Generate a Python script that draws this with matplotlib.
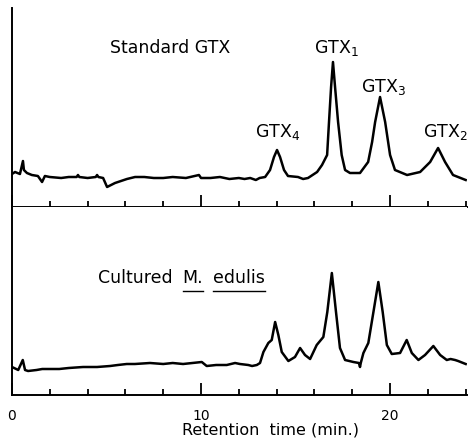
import matplotlib
matplotlib.use("Agg")
import matplotlib.pyplot as plt
from matplotlib.transforms import IdentityTransform

# retention time (min) / detector response (arbitrary units)
std_time = [0.0, 0.16, 0.42, 0.58, 0.63, 0.79, 1.05, 1.37, 1.59, 1.74, 2.0,
            2.6, 3.0, 3.42, 3.49, 3.56, 4.0, 4.43, 4.50, 4.57, 4.82, 5.03,
            5.45, 6.08, 6.51, 7.0, 7.5, 8.0, 8.5, 9.2, 9.89, 10.0, 10.5,
            11.0, 11.5, 12.0, 12.3, 12.6, 12.9, 13.1, 13.39, 13.65, 13.86,
            14.02, 14.18, 14.39, 14.60, 15.13, 15.4, 15.66, 16.14, 16.40,
            16.67, 16.77, 16.88, 16.98, 17.09, 17.25, 17.44, 17.62, 17.88,
            18.41, 18.84, 19.05, 19.21, 19.47, 19.74, 20.0, 20.26, 20.90,
            21.59, 22.12, 22.54, 22.91, 23.33, 24.0]
std_signal = [33, 35, 33, 46, 37, 34, 32, 31, 25, 31, 30,
              29, 30, 30, 32, 30, 29, 30, 32, 30, 29, 20,
              24, 28, 30, 30, 29, 29, 30, 29, 32, 29, 29,
              30, 28, 29, 28, 29, 27, 29, 30, 37, 50,
              57, 50, 37, 31, 30, 28, 29, 35, 42,
              52, 85, 120, 145, 120, 85, 52, 37, 34,
              34, 45, 65, 85, 110, 85, 52, 37, 32,
              35, 45, 59, 45, 32, 27]

mussel_time = [0.0, 0.33, 0.57, 0.69, 0.85, 1.3, 1.6, 2.01, 2.5, 3.0, 3.76,
               4.5, 5.19, 5.6, 6.07, 6.5, 7.30, 8.0, 8.5, 9.05, 10.04, 10.30,
               10.8, 11.36, 11.80, 12.06, 12.5, 12.7, 12.95, 13.12, 13.30,
               13.56, 13.74, 13.92, 14.09, 14.27, 14.62, 14.97, 15.24, 15.50,
               15.77, 16.12, 16.47, 16.68, 16.92, 17.14, 17.35, 17.62, 18.06,
               18.35, 18.41, 18.45, 18.59, 18.85, 19.12, 19.38, 19.61, 19.83,
               20.09, 20.53, 20.88, 21.15, 21.50, 21.85, 22.29, 22.65, 23.0,
               23.2, 23.44, 23.6, 24.0]
mussel_signal = [28, 25, 35, 25, 24, 25, 26, 26, 26, 27, 28,
                 28, 29, 30, 31, 31, 32, 31, 32, 31, 33, 29,
                 30, 30, 32, 31, 30, 29, 30, 32, 43,
                 52, 55, 73, 60, 43, 34, 38, 47, 40,
                 36, 50, 58, 83, 122, 83, 47, 35, 33,
                 32, 28, 32, 42, 52, 83, 113, 83, 50,
                 41, 42, 55, 42, 35, 40, 49, 40, 35,
                 36, 35, 34, 31]

peak_names = ["GTX$_4$", "GTX$_1$", "GTX$_3$", "GTX$_2$"]
std_title = "Standard GTX"
sample_words = ["Cultured", "M.", "edulis"]
sample_underline = [False, True, True]
time_ticks = [0, 10, 20]
time_minor = [2, 4, 6, 8, 12, 14, 16, 18, 22, 24]

fig = plt.figure(figsize=(4.7, 4.46), dpi=100)
W, H = 470.0, 446.0
ax1 = fig.add_axes([12 / W, 1 - 207 / H, 455 / W, 199 / H])
ax2 = fig.add_axes([12 / W, 1 - 395 / H, 455 / W, 188 / H])

ax1.plot(std_time, std_signal, color="black", lw=1.8, solid_joinstyle="round")
ax2.plot(mussel_time, mussel_signal, color="black", lw=1.8, solid_joinstyle="round")

ax1.set_ylim(0, 199)
ax2.set_ylim(0, 188)
for ax in (ax1, ax2):
    ax.set_xlim(0, 24.07)
    ax.spines["top"].set_visible(False)
    ax.spines["right"].set_visible(False)
    ax.spines["left"].set_linewidth(1.4)
    ax.spines["bottom"].set_linewidth(1.4)
    ax.set_yticks([])
    ax.set_xticks(time_ticks)
    ax.set_xticks(time_minor, minor=True)
    ax.tick_params(axis="x", which="major", direction="in", length=9, width=1.3)
    ax.tick_params(axis="x", which="minor", direction="in", length=4, width=1.3)
ax1.tick_params(axis="x", which="both", labelbottom=False)
ax2.tick_params(axis="x", which="major", labelsize=10, pad=10)
ax2.set_xticklabels([str(t) for t in time_ticks])

# top panel labels
ax1.text(8.36, 154, std_title, fontsize=12.5, ha="center", va="baseline")
for name, t, v in zip(peak_names, [14.07, 17.14, 19.63, 22.91], [70, 154, 115, 70]):
    ax1.text(t, v, name, fontsize=12.5, ha="center", va="baseline")

# bottom panel label, species name underlined
renderer = fig.canvas.get_renderer()
x0, y0 = ax2.transData.transform((4.55, 112))
for word, ul in zip(sample_words, sample_underline):
    txt = ax2.text(x0, y0, word, fontsize=12.5, ha="left", va="baseline",
                   transform=IdentityTransform())
    bb = txt.get_window_extent(renderer)
    if ul:
        ax2.plot([bb.x0, bb.x1], [y0 - 8, y0 - 8], color="black", lw=1.0,
                 transform=IdentityTransform(), clip_on=False)
    x0 = bb.x1 + 10

fig.text(270 / W, 1 - 430 / H, "Retention  time (min.)", fontsize=11.5,
         ha="center", va="center")

fig.savefig("out.png", dpi=100)
